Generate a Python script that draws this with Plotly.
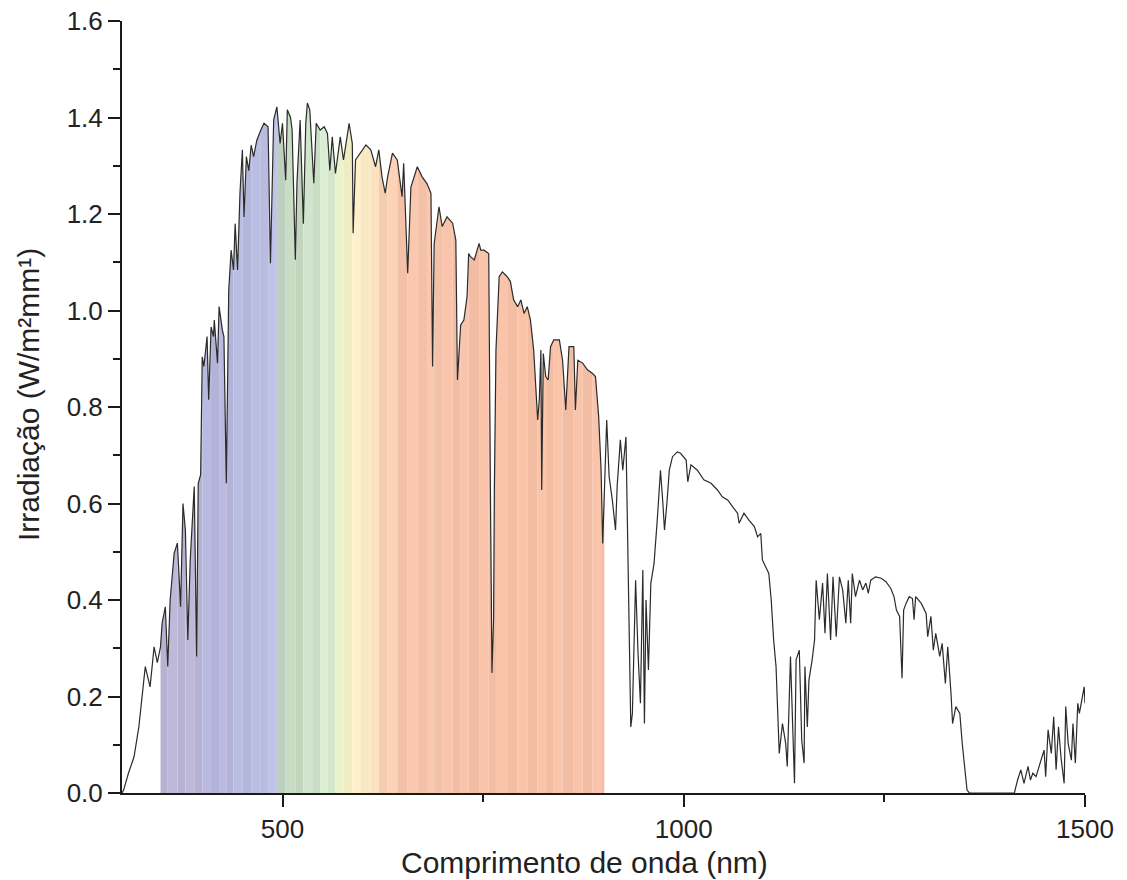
import plotly.graph_objects as go

# solar irradiance spectrum
wavelength = [
    300, 302, 308, 315, 321, 325, 329, 335, 340, 344, 348, 350, 354, 357, 360, 365, 369, 373, 376, 379,
    382, 385, 390, 393, 395, 398, 400, 402, 406, 408, 411, 414, 415, 419, 421, 425, 427, 430, 433, 436,
    439, 441, 444, 447, 450, 452, 455, 458, 461, 464, 468, 473, 477, 482, 485, 489, 493, 497, 500, 504,
    506, 510, 512, 516, 518, 522, 526, 529, 531, 534, 537, 539, 542, 547, 552, 556, 559, 562, 566, 568,
    572, 576, 583, 587, 588, 591, 597, 604, 610, 616, 620, 624, 628, 631, 637, 643, 649, 651, 656, 660,
    668, 674, 680, 685, 687, 689, 695, 699, 705, 712, 716, 718, 722, 726, 730, 732, 734, 739, 745, 747,
    751, 757, 759, 761, 763, 764, 766, 770, 774, 780, 784, 788, 793, 797, 801, 805, 809, 813, 818, 820,
    822, 823, 825, 828, 831, 834, 838, 845, 849, 853, 857, 863, 865, 868, 874, 880, 886, 890, 894, 897,
    899, 901, 904, 907, 911, 915, 917, 921, 924, 928, 929, 932, 934, 936, 940, 943, 946, 949, 951, 953,
    956, 959, 963, 967, 971, 974, 976, 979, 982, 986, 992, 996, 1003, 1005, 1009, 1017, 1025, 1034, 1042, 1048,
    1055, 1061, 1067, 1069, 1075, 1081, 1088, 1092, 1096, 1098, 1102, 1106, 1109, 1112, 1115, 1117, 1119, 1123, 1127, 1129,
    1133, 1138, 1140, 1144, 1147, 1150, 1151, 1154, 1156, 1160, 1163, 1165, 1169, 1173, 1176, 1179, 1183, 1186, 1190, 1194,
    1198, 1202, 1205, 1208, 1210, 1214, 1219, 1223, 1227, 1230, 1233, 1239, 1246, 1252, 1258, 1262, 1265, 1269, 1272, 1274,
    1277, 1281, 1285, 1287, 1289, 1296, 1302, 1304, 1308, 1311, 1314, 1319, 1322, 1326, 1329, 1333, 1335, 1339, 1344, 1347,
    1350, 1353, 1356, 1412, 1416, 1420, 1424, 1429, 1432, 1435, 1439, 1443, 1449, 1451, 1454, 1458, 1461, 1464, 1467, 1470,
    1474, 1476, 1479, 1483, 1485, 1488, 1491, 1493, 1496, 1499, 1500,
]
irradiance = [
    0.0, 0.006, 0.041, 0.075, 0.137, 0.207, 0.262, 0.22, 0.303, 0.27, 0.303, 0.352, 0.386, 0.262, 0.40, 0.497, 0.518, 0.386, 0.60, 0.545,
    0.317, 0.483, 0.635, 0.283, 0.642, 0.66, 0.904, 0.884, 0.946, 0.815, 0.966, 0.946, 0.98, 0.891, 1.008, 0.96, 0.946, 0.642, 1.042, 1.125,
    1.084, 1.18, 1.084, 1.243, 1.333, 1.194, 1.319, 1.29, 1.343, 1.319, 1.353, 1.374, 1.388, 1.381, 1.098, 1.395, 1.422, 1.346, 1.388, 1.27,
    1.416, 1.40, 1.374, 1.105, 1.264, 1.395, 1.18, 1.388, 1.43, 1.416, 1.319, 1.264, 1.388, 1.374, 1.381, 1.367, 1.29, 1.36, 1.284, 1.312,
    1.36, 1.312, 1.388, 1.346, 1.16, 1.312, 1.326, 1.343, 1.333, 1.298, 1.333, 1.277, 1.243, 1.277, 1.326, 1.312, 1.236, 1.305, 1.077, 1.256,
    1.298, 1.277, 1.263, 1.243, 0.884, 1.139, 1.215, 1.174, 1.194, 1.181, 1.146, 0.856, 0.97, 0.98, 1.029, 1.118, 1.112, 1.105, 1.139, 1.125,
    1.125, 1.118, 0.642, 0.249, 0.358, 0.628, 0.918, 1.07, 1.08, 1.07, 1.06, 1.022, 1.008, 1.022, 0.994, 1.008, 0.98, 0.918, 0.773, 0.815,
    0.918, 0.628, 0.911, 0.863, 0.856, 0.925, 0.939, 0.939, 0.897, 0.794, 0.925, 0.925, 0.794, 0.897, 0.891, 0.877, 0.87, 0.863, 0.78, 0.669,
    0.517, 0.642, 0.773, 0.656, 0.607, 0.545, 0.635, 0.732, 0.669, 0.738, 0.635, 0.359, 0.137, 0.165, 0.441, 0.29, 0.186, 0.462, 0.144, 0.40,
    0.255, 0.435, 0.476, 0.566, 0.669, 0.60, 0.545, 0.60, 0.669, 0.697, 0.707, 0.704, 0.69, 0.645, 0.68, 0.669, 0.649, 0.642, 0.628, 0.614,
    0.607, 0.593, 0.58, 0.559, 0.58, 0.566, 0.552, 0.531, 0.538, 0.483, 0.469, 0.455, 0.40, 0.317, 0.262, 0.151, 0.082, 0.144, 0.103, 0.055,
    0.283, 0.02, 0.276, 0.296, 0.11, 0.062, 0.262, 0.137, 0.234, 0.276, 0.317, 0.441, 0.359, 0.435, 0.331, 0.455, 0.317, 0.448, 0.324, 0.448,
    0.421, 0.352, 0.441, 0.352, 0.455, 0.407, 0.441, 0.421, 0.435, 0.414, 0.441, 0.448, 0.445, 0.438, 0.424, 0.407, 0.379, 0.366, 0.238, 0.379,
    0.393, 0.407, 0.403, 0.359, 0.407, 0.393, 0.372, 0.324, 0.366, 0.296, 0.331, 0.283, 0.31, 0.227, 0.303, 0.207, 0.144, 0.179, 0.165, 0.103,
    0.048, 0.006, 0.0, 0.0, 0.027, 0.048, 0.02, 0.055, 0.027, 0.041, 0.034, 0.055, 0.089, 0.034, 0.131, 0.082, 0.158, 0.048, 0.137, 0.075,
    0.02, 0.179, 0.103, 0.068, 0.144, 0.062, 0.186, 0.165, 0.193, 0.22, 0.186,
]

x_ticks = [500, 1000, 1500]
x_minor = [750, 1250]
y_ticks = [0.0, 0.2, 0.4, 0.6, 0.8, 1.0, 1.2, 1.4, 1.6]
y_minor = [0.1, 0.3, 0.5, 0.7, 0.9, 1.1, 1.3, 1.5]

# visible-band tint under the curve (start wavelength, colour)
band_stops = [
    (340, "#bab5d4"), (400, "#b6b5db"), (440, "#b7badf"), (475, "#bcbfe2"),
    (493, "#c0d2c2"), (505, "#c5d9c1"), (525, "#cce1c8"), (550, "#d7e9ce"),
    (562, "#e7efc9"), (578, "#f3f0c7"), (590, "#fcecc5"), (608, "#f9dcbc"),
    (622, "#f8cfb3"), (640, "#f6c4ab"), (700, "#f6c0a7"),
]
fill_start, fill_end = 348, 901


def band_color(nm, k):
    col = band_stops[0][1]
    for start, c in band_stops:
        if nm >= start:
            col = c
    r, g, b = int(col[1:3], 16), int(col[3:5], 16), int(col[5:7], 16)
    shift = 4 if k % 2 else -3
    r, g, b = [max(0, min(255, v + shift)) for v in (r, g, b)]
    return f"rgb({r},{g},{b})"


fig = go.Figure()

idx = [i for i, w in enumerate(wavelength) if fill_start <= w <= fill_end]
start = idx[0]
k = 0
for j in idx[1:]:
    if wavelength[j] - wavelength[start] >= 9 or j == idx[-1]:
        xs = wavelength[start:j + 1]
        ys = irradiance[start:j + 1]
        col = band_color((xs[0] + xs[-1]) / 2, k)
        fig.add_trace(go.Scatter(
            x=xs, y=ys, mode="lines", fill="tozeroy", fillcolor=col,
            line=dict(width=0, color=col), hoverinfo="skip", showlegend=False,
        ))
        start = j
        k += 1

fig.add_trace(go.Scatter(
    x=wavelength, y=irradiance, mode="lines",
    line=dict(color="#2b2b2b", width=1.2), showlegend=False,
))

font = "Liberation Sans, Arial, sans-serif"
axis_common = dict(
    showline=True, linecolor="#1a1a1a", linewidth=2,
    ticks="outside", ticklen=12, tickwidth=2, tickcolor="#1a1a1a",
    showgrid=False, zeroline=False,
    tickfont=dict(family=font, size=26, color="#222"),
)

# the page body adds an 8px offset, so the figure is trimmed by that much
fig.update_layout(
    width=1119, height=872,
    margin=dict(l=114, r=42, t=13, b=87),
    plot_bgcolor="white", paper_bgcolor="white",
    xaxis=dict(
        range=[300, 1500], tickvals=x_ticks, automargin=False,
        minor=dict(tickvals=x_minor, ticks="outside", ticklen=7, tickwidth=1.5, tickcolor="#1a1a1a"),
        **axis_common,
    ),
    yaxis=dict(
        range=[0, 1.6], dtick=0.2, tick0=0, tickformat=".1f", automargin=False,
        ticklabeloverflow="allow",
        minor=dict(dtick=0.1, tick0=0, ticks="outside", ticklen=7, tickwidth=1.5, tickcolor="#1a1a1a"),
        **axis_common,
    ),
    annotations=[
        dict(text="Comprimento de onda (nm)", xref="paper", yref="paper",
             x=0.48, y=-0.09, xanchor="center", yanchor="middle", showarrow=False,
             font=dict(family=font, size=30, color="#222")),
        dict(text="Irradiação (W/m²mm¹)", xref="paper", yref="paper",
             x=-0.0976, y=0.5155, xanchor="center", yanchor="middle", showarrow=False,
             textangle=-90, font=dict(family=font, size=30, color="#222")),
    ],
)

fig.write_html("out.html")
